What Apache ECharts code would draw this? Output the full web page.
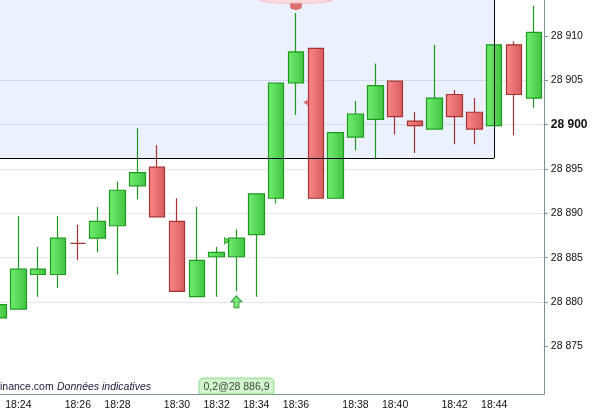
<!DOCTYPE html>
<html><head><meta charset="utf-8">
<script src="https://cdn.jsdelivr.net/npm/echarts@6/dist/echarts.min.js"></script>
<style>html,body{margin:0;padding:0;background:#fff}#c{width:593px;height:413px}</style>
</head><body><div id="c"></div>
<script>
// one entry per candle (first candle is partly outside the view)
const tickLabels = ['', '18:24', '', '', '18:26', '', '18:28', '', '', '18:30', '', '18:32', '', '18:34', '', '18:36', '', '', '18:38', '', '18:40', '', '', '18:42', '', '18:44', '', ''];
const opens  = [28878.2, 28879.2, 28883.1, 28883.1, 28886.6, 28887.2, 28888.6, 28893.1, 28895.2, 28889.1, 28880.6, 28885.1, 28885.1, 28887.6, 28891.7, 28904.7, 28908.6, 28891.7, 28898.6, 28900.6, 28904.9, 28900.4, 28899.5, 28903.4, 28901.4, 28899.9, 28909.0, 28903.0];
const closes = [28879.7, 28883.7, 28883.7, 28887.2, 28886.6, 28889.1, 28892.6, 28894.6, 28889.6, 28881.2, 28884.7, 28885.6, 28887.2, 28892.2, 28904.7, 28908.2, 28891.7, 28899.1, 28901.2, 28904.4, 28900.9, 28899.9, 28903.0, 28900.9, 28899.5, 28909.0, 28903.4, 28910.4];
const lows   = [28877.6, 28879.2, 28880.6, 28881.6, 28884.7, 28885.6, 28883.1, 28891.6, 28889.6, 28881.2, 28880.6, 28880.6, 28881.2, 28880.6, 28891.1, 28901.1, 28891.7, 28891.7, 28897.1, 28896.1, 28898.9, 28896.8, 28899.5, 28897.8, 28897.8, 28899.9, 28898.8, 28901.9];
const highs  = [28880.3, 28889.7, 28886.2, 28889.7, 28888.7, 28890.7, 28893.6, 28899.6, 28897.7, 28891.7, 28890.7, 28886.2, 28888.2, 28892.2, 28904.7, 28912.6, 28908.6, 28899.1, 28902.7, 28906.9, 28904.9, 28901.4, 28909.0, 28903.9, 28903.0, 28909.0, 28909.4, 28913.4];
const priceTicks = [28875, 28880, 28885, 28890, 28895, 28900, 28905, 28910];

const yMin = 28869.62, yMax = 28914.06;
const boldLevel = 28900;
const zoneBottom = 28896.24;   // blue zone lower bound
const zoneEndIndex = 25;       // blue zone ends at the 18:44 candle
const buyIndex = 12, buyPrice = 28886.9, buyQty = '0,2';
const sellIndex = 16, sellPrice = 28902.5;
const sellArrowIndex = 15;

const categories = tickLabels.map((t, i) => 'c' + i);
const FONT = '"Liberation Sans", Arial, sans-serif';

function frNum(v, dec) {
  const s = v.toFixed(dec).split('.');
  const intp = s[0].replace(/\B(?=(\d{3})+(?!\d))/g, ' ');
  return s.length > 1 ? intp + ',' + s[1] : intp;
}

const green = {type:'linear', x:0, y:0, x2:1, y2:0, colorStops:[{offset:0,color:'#72ee72'},{offset:1,color:'#3fc43f'}]};
const red = {type:'linear', x:0, y:0, x2:1, y2:0, colorStops:[{offset:0,color:'#fa8888'},{offset:1,color:'#d65c5c'}]};
const showTick = (i) => tickLabels[i] !== '';

const chart = echarts.init(document.getElementById('c'), null, {renderer:'canvas'});
chart.setOption({
  animation: false,
  backgroundColor: '#fff',
  grid: {left: -11.4, right: 49.2, top: 0, bottom: 19, containLabel: false, outerBoundsMode: 'none'},
  xAxis: {
    type: 'category', data: categories, boundaryGap: true,
    axisLine: {lineStyle: {color: '#7d8e9b', width: 1}},
    axisTick: {alignWithLabel: true, length: 4, interval: showTick, lineStyle: {color: '#7d8e9b'}},
    axisLabel: {interval: showTick, formatter: (v, i) => tickLabels[i], fontSize: 10.5, fontFamily: FONT, color: '#111', margin: 6},
    splitLine: {show: false}
  },
  yAxis: {
    type: 'value', position: 'right', min: yMin, max: yMax, scale: true,
    axisLine: {show: true, lineStyle: {color: '#7d8e9b', width: 1}},
    axisTick: {show: true, length: 4, customValues: priceTicks, lineStyle: {color: '#7d8e9b'}},
    axisLabel: {
      customValues: priceTicks,
      margin: 7, fontSize: 10.5, fontFamily: FONT, color: '#111',
      formatter: (v) => {
        const t = frNum(v, 0);
        return Math.round(v) === boldLevel ? '{b|' + t + '}' : t;
      },
      rich: {b: {fontWeight: 'bold', fontSize: 12, fontFamily: FONT, color: '#111'}}
    },
    splitLine: {show: true, showMinLine: false, showMaxLine: false, lineStyle: {color: '#e6e6e6', width: 1}}
  },
  series: [
    {
      type: 'candlestick',
      data: opens.map((o, i) => [o, closes[i], lows[i], highs[i]]),
      barWidth: 16,
      itemStyle: {color: green, color0: red, borderColor: '#1d9a1d', borderColor0: '#a83232', borderWidth: 1.2},
      markArea: {
        silent: true,
        itemStyle: {color: 'rgba(45,105,255,0.09)', borderWidth: 0},
        data: [[{xAxis: 0, yAxis: zoneBottom}, {xAxis: zoneEndIndex, yAxis: yMax}]]
      },
      markLine: {
        silent: true, symbol: ['none', 'none'], label: {show: false},
        lineStyle: {color: '#000', width: 1, type: 'solid'},
        data: [
          [{coord: [0, zoneBottom]}, {coord: [zoneEndIndex, zoneBottom]}],
          [{coord: [zoneEndIndex, zoneBottom]}, {coord: [zoneEndIndex, yMax]}]
        ]
      }
    },
    { // buy execution flag
      type: 'scatter', data: [[buyIndex, buyPrice]], symbol: 'triangle', symbolRotate: -90,
      symbolSize: [6, 5], symbolOffset: [-9.5, 0], silent: true,
      itemStyle: {color: '#49cf49', borderColor: '#1a961a', borderWidth: 1}
    },
    { // buy arrow
      type: 'scatter', data: [[buyIndex, lows[buyIndex]]], silent: true,
      symbol: 'path://M5.5,0 L11,6 L8,6 L8,12 L3,12 L3,6 L0,6 Z', symbolSize: [11, 12], symbolOffset: [0, 10.5],
      itemStyle: {color: '#5fdc5f', borderColor: '#168f16', borderWidth: 1}
    },
    { // sell execution flag
      type: 'scatter', data: [[sellIndex, sellPrice]], symbol: 'triangle', symbolRotate: 90,
      symbolSize: [6, 5], symbolOffset: [-9.5, 0], silent: true,
      itemStyle: {color: '#e05252', borderColor: '#b83232', borderWidth: 0.5}
    },
    { // sell arrow (top)
      type: 'scatter', data: [[sellArrowIndex, highs[sellArrowIndex]]], silent: true,
      symbol: 'path://M0,0 L12,0 L12,4 Q10.5,8 9,6 Q6,9 3,6 Q1.5,8 0,4 Z', symbolSize: [11, 7], symbolOffset: [0, -6.5],
      itemStyle: {color: '#de4f4f', borderColor: '#b52f2f', borderWidth: 0.5}
    },
    { // sell label box (cut at the top)
      type: 'scatter', data: [[sellArrowIndex, highs[sellArrowIndex]]], silent: true,
      symbol: 'roundRect', symbolSize: [74, 20], symbolOffset: [0, -19.8],
      itemStyle: {color: '#ffd4d4', borderColor: '#f2a2a2', borderWidth: 1}
    },
    { // trade label on the time axis
      type: 'scatter', data: [[buyIndex, yMin]], silent: true, symbolSize: 1,
      itemStyle: {color: 'rgba(0,0,0,0)'},
      label: {
        show: true, position: 'top', distance: 0,
        formatter: () => buyQty + '@' + frNum(buyPrice, 1),
        fontSize: 10.5, fontFamily: FONT, color: '#111',
        backgroundColor: '#c9f4c3', borderColor: '#86d486', borderWidth: 1,
        borderRadius: [4, 4, 0, 0], padding: [3, 4, 1, 4]
      }
    }
  ],
  graphic: [{
    type: 'text', left: 0, top: 381, silent: true,
    style: {
      text: '{a|inance.com} {b|Données indicatives}',
      rich: {
        a: {fontSize: 10.5, fontFamily: FONT, fill: '#16183a'},
        b: {fontSize: 10.5, fontFamily: FONT, fontStyle: 'italic', fill: '#16183a'}
      }
    }
  }]
});
</script>
</body></html>
